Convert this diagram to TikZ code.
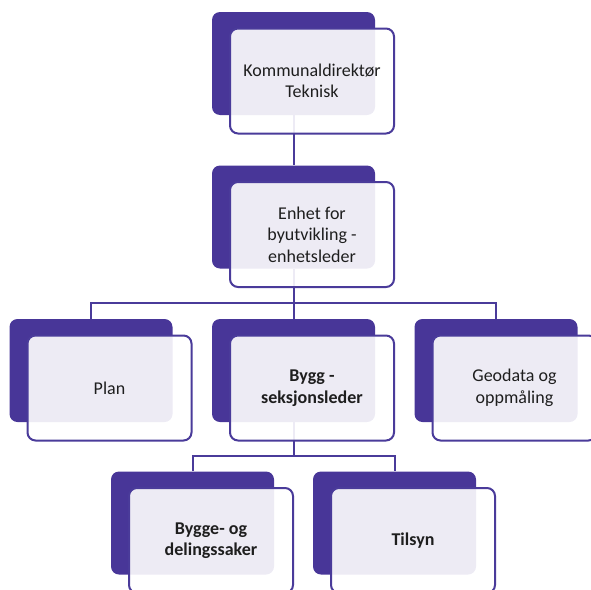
\documentclass[tikz,border=0pt]{standalone}
\usepackage{fontspec}
\setmainfont{Carlito}
\usetikzlibrary{calc}
\definecolor{dpurple}{HTML}{483698}
\definecolor{bpurple}{HTML}{4A3B9A}
\definecolor{txt}{HTML}{1E1E1E}
\begin{document}
\begin{tikzpicture}[x=1pt,y=-1pt,
  backbox/.style={rectangle, rounded corners=8pt, fill=dpurple, minimum width=163pt, minimum height=103pt, inner sep=0pt},
  frontbox/.style={rectangle, rounded corners=8pt, draw=bpurple, line width=2pt, fill=white, fill opacity=0.9, text opacity=1, minimum width=164pt, minimum height=105pt, inner sep=0pt, align=center, text=txt, font=\fontsize{18}{21.5}\selectfont},
  conn/.style={draw=bpurple, line width=2pt}]
\useasboundingbox (0,0) rectangle (591,589);
% back boxes
\node[backbox] (b1) at (293.5,63.5) {};
\node[backbox] (b2) at (293.5,217) {};
\node[backbox] (b3) at (91,370.5) {};
\node[backbox] (b4) at (293.5,370.5) {};
\node[backbox] (b5) at (496,370.5) {};
\node[backbox] (b6) at (192.5,523) {};
\node[backbox] (b7) at (394.5,523) {};
% connectors
\coordinate (j1) at (293.5,303);
\coordinate (j2) at (293.5,456);
\draw[conn] (b1.south) -- (b2.north);
\draw[conn] (b2.south) -- (j1);
\draw[conn] (b3.north) |- (j1) -| (b5.north);
\draw[conn] (j1) -- (b4.north);
\draw[conn] (b4.south) -- (j2);
\draw[conn] (b6.north) |- (j2) -| (b7.north);
% front boxes
\node[frontbox] (f1) at ($(b1)+(18.5,17.5)$) {Kommunaldirektør\\Teknisk};
\node[frontbox] (f2) at ($(b2)+(18.5,17.5)$) {Enhet for\\byutvikling -\\enhetsleder};
\node[frontbox] (f3) at ($(b3)+(18.5,17.5)$) {Plan};
\node[frontbox, font=\fontsize{18}{21.5}\selectfont\bfseries] (f4) at ($(b4)+(18.5,17.5)$) {Bygg -\\seksjonsleder};
\node[frontbox] (f5) at ($(b5)+(18.5,17.5)$) {Geodata og\\oppmåling};
\node[frontbox, font=\fontsize{18}{21.5}\selectfont\bfseries] (f6) at ($(b6)+(18.5,17.5)$) {Bygge- og\\delingssaker};
\node[frontbox, font=\fontsize{18}{21.5}\selectfont\bfseries] (f7) at ($(b7)+(18.5,17.5)$) {Tilsyn};
\end{tikzpicture}
\end{document}
